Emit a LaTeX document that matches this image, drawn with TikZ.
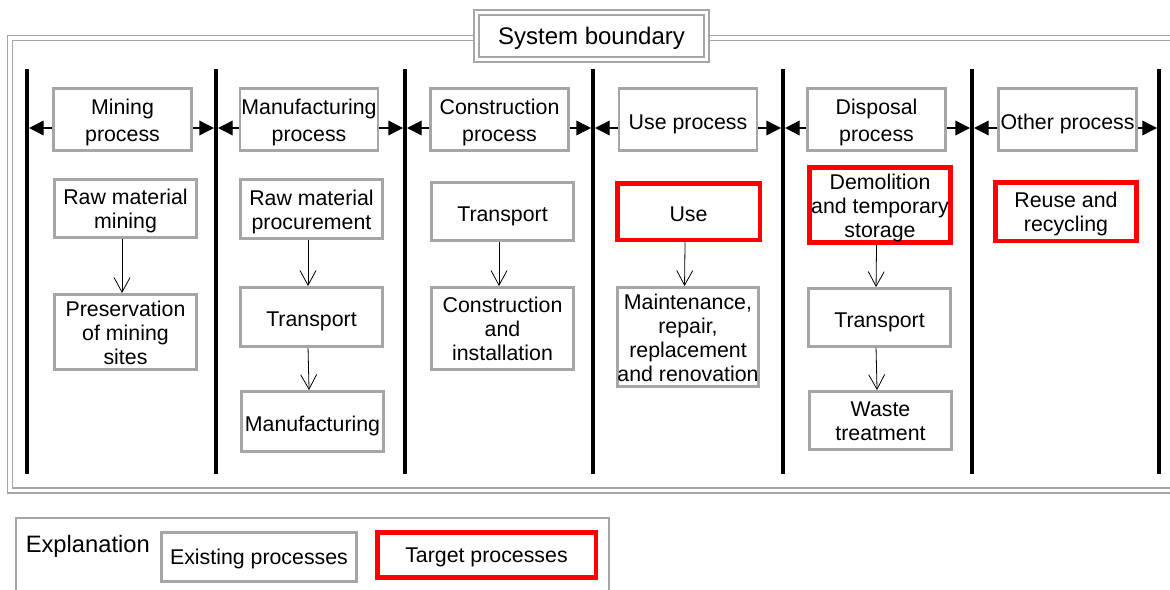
\documentclass[tikz,border=0pt]{standalone}
\usepackage{fontspec}
\setmainfont{Liberation Sans}
\usetikzlibrary{arrows.meta}
\definecolor{bgray}{RGB}{166,166,166}
\definecolor{bred}{RGB}{255,0,0}
\newcommand\lnstrut{\rule[-0.212em]{0pt}{1.117em}}
\newcommand\lnstrutup{\rule[-0.212em]{0pt}{1.35em}}
\newcommand\fl{\rule{0pt}{1.0em}}
\tikzset{
 nbox/.style={draw=bgray, line width=2.2pt, fill=white, inner sep=0pt, align=center, font=\fontsize{16}{18}\selectfont},
 gbox/.style={nbox, execute at begin node=\lnstrutup, execute at end node=\lnstrut},
 rbox/.style={gbox, draw=bred, line width=3.4pt},
 lgbox/.style={nbox, execute at begin node=\lnstrut, execute at end node=\lnstrut},
 lrbox/.style={lgbox, draw=bred, line width=3.4pt},
 hdr/.style={gbox, font=\fontsize{16}{20.25}\selectfont, minimum width=103.5pt, minimum height=46.5pt},
 bar/.style={line width=3pt, black},
 harr/.style={line width=1pt, -{Triangle[length=11pt,width=11pt]}},
 darr/.style={line width=0.6pt, -{Straight Barb[length=11pt,width=12pt]}, transform canvas={xshift=-2.6pt}},
 dframe/.style={draw=bgray, line width=1.275pt, double=white, double distance=2.5pt},
 lframe/.style={draw=bgray, line width=1.6pt},
}
\begin{document}
\begin{tikzpicture}[x=0.75pt,y=-0.75pt]
\useasboundingbox (0,0) rectangle (1170,589);
\clip (0,0) rectangle (1170,589);
% system boundary frame
\draw[dframe] (10,38) rectangle (1190,490.5);
\node[dframe, fill=white, inner sep=0pt, minimum width=172.9pt, minimum height=35.6pt, font=\fontsize{18}{21}\selectfont,
  execute at begin node=\lnstrut] (title) at (591.5,36) {System boundary};
% bars
\foreach \x in {27,216,405,593,783,972,1159}{
  \draw[bar] (\x,69) -- (\x,474);
}
% header boxes
\node[hdr] (h1) at (122.5,119.5) {\fl Mining\\process};
\node[hdr] (h2) at (309,119.5) {\fl Manufacturing\\process};
\node[hdr] (h3) at (499.5,119.5) {\fl Construction\\process};
\node[hdr] (h4) at (688,119.5) {Use process};
\node[hdr] (h5) at (876.5,119.5) {\fl Disposal\\process};
\node[hdr] (h6) at (1067.5,119.5) {Other process};
% arrow end coordinates
\coordinate (l1) at (29,128);   \coordinate (r1) at (214,128);
\coordinate (l2) at (218,128);  \coordinate (r2) at (403,128);
\coordinate (l3) at (407,128);  \coordinate (r3) at (591,128);
\coordinate (l4) at (595,128);  \coordinate (r4) at (781,128);
\coordinate (l5) at (785,128);  \coordinate (r5) at (970,128);
\coordinate (l6) at (974,128);  \coordinate (r6) at (1157,128);
\foreach \i in {1,...,6}{
  \draw[harr] (h\i.west |- l\i) -- (l\i);
  \draw[harr] (h\i.east |- r\i) -- (r\i);
}
% column 1
\node[gbox, minimum width=106.5pt, minimum height=43.5pt] (rmm) at (125.5,208.5) {\fl Raw material\\mining};
\node[gbox, minimum width=106.5pt, minimum height=56.25pt] (pres) at (125.5,332) {\fl Preservation\\of mining\\sites};
% column 2
\node[gbox, minimum width=106.5pt, minimum height=44.25pt] (rmp) at (311.5,209) {\fl Raw material\\procurement};
\node[gbox, minimum width=106.5pt, minimum height=44.25pt] (tr2) at (311.5,317) {Transport};
\node[gbox, minimum width=106.5pt, minimum height=45pt] (manu) at (312.5,421.5) {Manufacturing};
% column 3
\node[gbox, minimum width=106.5pt, minimum height=43.5pt] (tr3) at (502.5,211.5) {Transport};
\node[gbox, minimum width=106.5pt, minimum height=61.5pt] (cons) at (502.5,328.5) {\fl Construction\\and\\installation};
% column 4
\node[rbox, minimum width=106.9pt, minimum height=42.4pt] (use) at (688.5,211.5) {Use};
\node[gbox, minimum width=105.75pt, minimum height=74.25pt] (mnt) at (688,337) {\fl Maintenance,\\repair,\\replacement\\and renovation};
% column 5
\node[rbox, minimum width=106.1pt, minimum height=56.6pt] (dem) at (880,205) {\fl Demolition\\and temporary\\storage};
\node[gbox, minimum width=106.5pt, minimum height=43.5pt] (tr5) at (879.5,317.5) {Transport};
\node[gbox, minimum width=106.5pt, minimum height=43.5pt] (waste) at (880.5,420.5) {\fl Waste\\treatment};
% column 6
\node[rbox, minimum width=106.1pt, minimum height=43.9pt] (reuse) at (1066,211.5) {\fl Reuse and\\recycling};
% down arrows
\draw[darr] (rmm.south) -- (pres.north);
\draw[darr] (rmp.south) -- (tr2.north);
\draw[darr] (tr2.south) -- (manu.north);
\draw[darr] (tr3.south) -- (cons.north);
\draw[darr] (use.south) -- (mnt.north);
\draw[darr] (dem.south) -- (tr5.north);
\draw[darr] (tr5.south) -- (waste.north);
% legend
\draw[lframe] (16,518) rectangle (609,610);
\node[anchor=base west, inner sep=0pt, font=\fontsize{17.8}{20}\selectfont] (expl) at (25.5,552) {Explanation};
\node[lgbox, minimum width=146.25pt, minimum height=36.75pt] (exist) at (259,557) {Existing processes};
\node[lrbox, minimum width=163.9pt, minimum height=34.1pt] (target) at (486.5,555) {Target processes};
\end{tikzpicture}
\end{document}
